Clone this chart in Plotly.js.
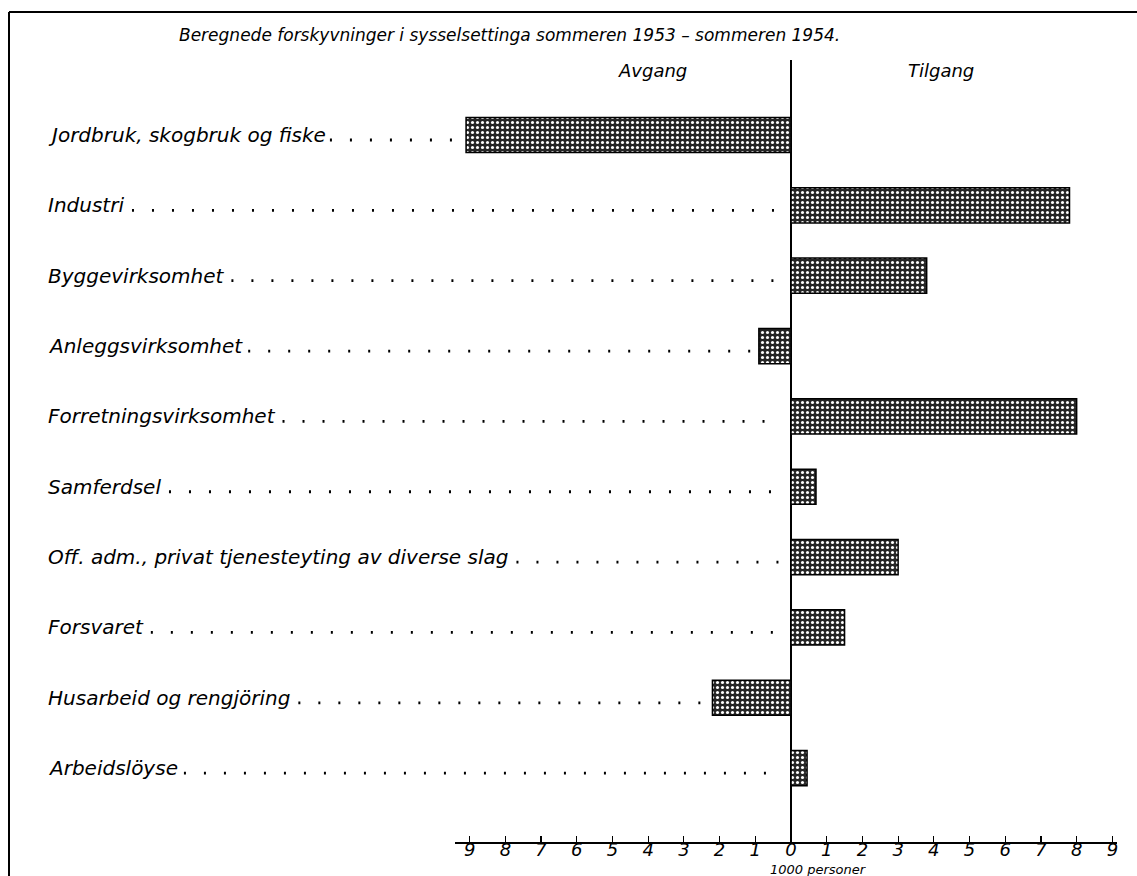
<!DOCTYPE html>
<html>
<head>
<meta charset="utf-8">
<script src="https://cdn.plot.ly/plotly-3.0.1.min.js"></script>
<style>html,body{margin:0;padding:0;background:#fff;}#chart{width:1137px;height:876px;}</style>
</head>
<body>
<div id="chart"></div>
<script>
// ---- data ----
const categories = [
  "Jordbruk, skogbruk og fiske",
  "Industri",
  "Byggevirksomhet",
  "Anleggsvirksomhet",
  "Forretningsvirksomhet",
  "Samferdsel",
  "Off. adm., privat tjenesteyting av diverse slag",
  "Forsvaret",
  "Husarbeid og rengjöring",
  "Arbeidslöyse"
];
const values = [-9.1, 7.8, 3.8, -0.9, 8.0, 0.7, 3.0, 1.5, -2.2, 0.45];
const tickValues = [-9,-8,-7,-6,-5,-4,-3,-2,-1,0,1,2,3,4,5,6,7,8,9];
const tickLabels = ["9","8","7","6","5","4","3","2","1","0","1","2","3","4","5","6","7","8","9"];
const titleText = "Beregnede forskyvninger i sysselsettinga sommeren 1953 – sommeren 1954.";
const leftHeader = "Avgang";
const rightHeader = "Tilgang";
const axisTitle = "1000 personer";

// ---- layout geometry ----
const W = 1137, H = 876;
const M = {l: 455, r: 20, t: 60, b: 34};
const PW = W - M.l - M.r, PH = H - M.t - M.b;
const XR = [-9.41, 9.13];
const YR = [10.05, -1.066];
const FONT = "DejaVu Sans";
const LABEL_SIZE = 20;

const px2x = p => (p - M.l) / PW;             // pixel -> paper x
const py2y = p => (H - M.b - p) / PH;         // pixel -> paper y
const d2px = v => M.l + (v - XR[0]) / (XR[1] - XR[0]) * PW; // data x -> pixel
const cat2py = i => M.t + (i - YR[1]) / (YR[0] - YR[1]) * PH;

const cv = document.createElement('canvas').getContext('2d');
cv.font = "italic " + LABEL_SIZE + "px '" + FONT + "'";

const annotations = [];
const shapes = [];
const labelX = 46;
categories.forEach((c, i) => {
  annotations.push({
    xref: 'paper', yref: 'y', x: px2x(labelX), y: c, text: c,
    xanchor: 'left', yanchor: 'middle', showarrow: false,
    font: {family: FONT, size: LABEL_SIZE, style: 'italic', color: '#000'}
  });
  const w = cv.measureText(c).width;
  const start = labelX + w + 10;
  const end = values[i] < 0 ? d2px(values[i]) - 8 : d2px(0) - 12;
  const py = cat2py(i) + 5;
  if (end > start) {
    shapes.push({
      type: 'line', xref: 'paper', yref: 'paper',
      x0: px2x(start), x1: px2x(end), y0: py2y(py), y1: py2y(py),
      line: {color: '#000', width: 2.8, dash: '2px,18px'}
    });
  }
});

annotations.push({
  xref: 'paper', yref: 'paper', x: px2x(509), y: py2y(35), text: titleText,
  showarrow: false, xanchor: 'center', yanchor: 'middle',
  font: {family: FONT, size: 17, style: 'italic', color: '#000'}
});
annotations.push({
  xref: 'paper', yref: 'paper', x: px2x(652), y: py2y(71), text: leftHeader,
  showarrow: false, xanchor: 'center', yanchor: 'middle',
  font: {family: FONT, size: 18, style: 'italic', color: '#000'}
});
annotations.push({
  xref: 'paper', yref: 'paper', x: px2x(941), y: py2y(71), text: rightHeader,
  showarrow: false, xanchor: 'center', yanchor: 'middle',
  font: {family: FONT, size: 18, style: 'italic', color: '#000'}
});
annotations.push({
  xref: 'paper', yref: 'paper', x: px2x(818), y: py2y(869), text: axisTitle,
  showarrow: false, xanchor: 'center', yanchor: 'middle',
  font: {family: FONT, size: 13, style: 'italic', color: '#000'}
});

// frame
shapes.push({type:'line', xref:'paper', yref:'paper', x0: px2x(9), x1: px2x(1137), y0: py2y(12), y1: py2y(12), line:{color:'#000', width:2}});
shapes.push({type:'line', xref:'paper', yref:'paper', x0: px2x(9), x1: px2x(9), y0: py2y(12), y1: py2y(876), line:{color:'#000', width:2}});

const trace = {
  type: 'bar', orientation: 'h', x: values, y: categories, width: 0.5,
  marker: {
    color: '#1e1e1e',
    line: {color: '#000', width: 1.5},
    pattern: {shape: '.', fgcolor: '#ffffff', bgcolor: '#262626', size: 5, solidity: 0.3}
  },
  hoverinfo: 'none'
};

const layout = {
  width: W, height: H, margin: M,
  paper_bgcolor: '#fff', plot_bgcolor: '#fff',
  showlegend: false,
  xaxis: {
    range: XR, tickmode: 'array', tickvals: tickValues, ticktext: tickLabels,
    ticks: 'inside', ticklen: 6, tickwidth: 1.2, tickcolor: '#000',
    ticklabelstandoff: -9,
    showline: true, linecolor: '#000', linewidth: 1.5,
    showgrid: false, zeroline: true, zerolinecolor: '#000', zerolinewidth: 1.5,
    tickfont: {family: FONT, size: 18, style: 'italic', color: '#000'},
    fixedrange: true
  },
  yaxis: {
    type: 'category', range: YR, showticklabels: false, ticks: '',
    showgrid: false, zeroline: false, showline: false, fixedrange: true
  },
  annotations: annotations,
  shapes: shapes
};

Plotly.newPlot('chart', [trace], layout, {staticPlot: true, displayModeBar: false});
</script>
</body>
</html>
